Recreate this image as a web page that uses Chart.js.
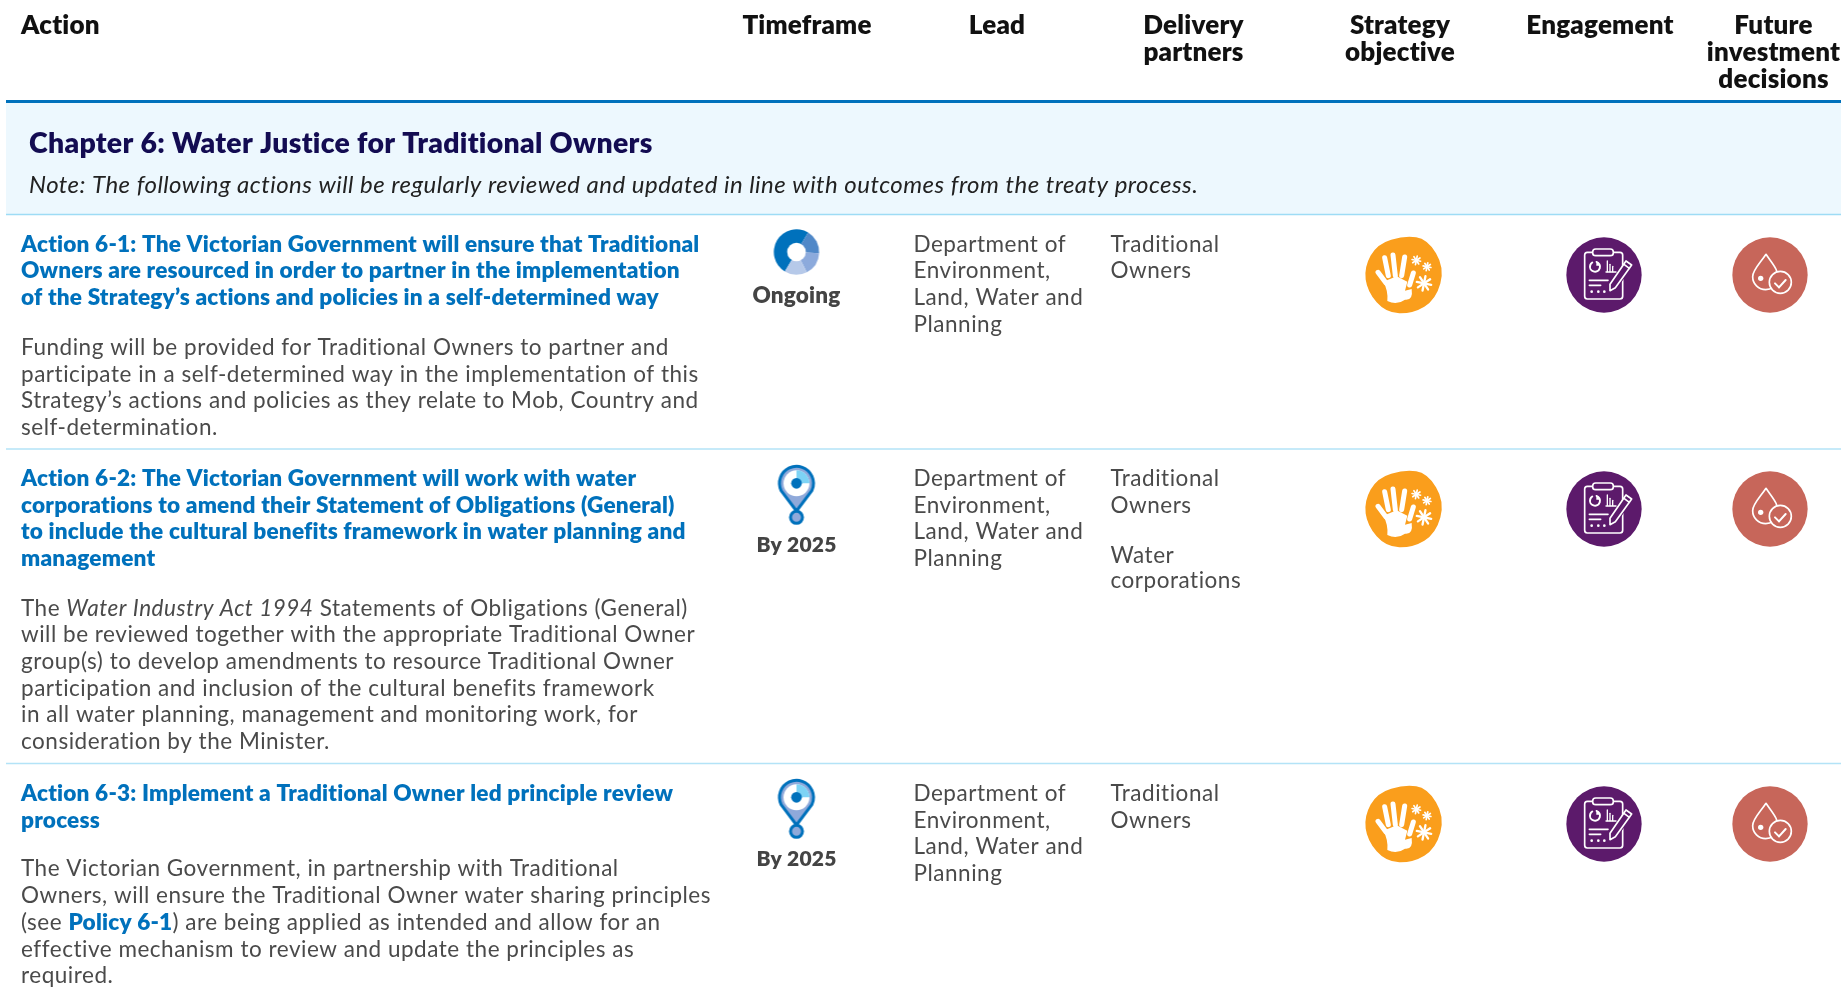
<!DOCTYPE html>
<html>
<head>
<meta charset="utf-8">
<title>Chapter 6 actions</title>
<script src="https://cdn.jsdelivr.net/npm/chart.js@4/dist/chart.umd.min.js"></script>
<style>
html,body{margin:0;padding:0;background:#fff;overflow:hidden}
#wrap{position:relative;width:1843px;height:992px}
</style>
</head>
<body>
<div id="wrap"><canvas id="c"></canvas></div>
<script>
const headerLabels=[['Action'],['Timeframe'],['Lead'],['Delivery','partners'],['Strategy','objective'],['Engagement'],['Future','investment','decisions']];
const chapterTitle='Chapter 6: Water Justice for Traditional Owners';
const chapterNote='Note: The following actions will be regularly reviewed and updated in line with outcomes from the treaty process.';
const actionTitles=[
  ['Action 6-1: The Victorian Government will ensure that Traditional','Owners are resourced in order to partner in the implementation','of the Strategy\u2019s actions and policies in a self-determined way'],
  ['Action 6-2: The Victorian Government will work with water','corporations to amend their Statement of Obligations (General)','to include the cultural benefits framework in water planning and','management'],
  ['Action 6-3: Implement a Traditional Owner led principle review','process']
];
const actionBodies=[
  ['Funding will be provided for Traditional Owners to partner and','participate in a self-determined way in the implementation of this','Strategy\u2019s actions and policies as they relate to Mob, Country and','self-determination.'],
  ['The _Water Industry Act 1994_ Statements of Obligations (General)','will be reviewed together with the appropriate Traditional Owner','group(s) to develop amendments to resource Traditional Owner','participation and inclusion of the cultural benefits framework','in all water planning, management and monitoring work, for','consideration by the Minister.'],
  ['The Victorian Government, in partnership with Traditional','Owners, will ensure the Traditional Owner water sharing principles','(see *Policy 6-1*) are being applied as intended and allow for an','effective mechanism to review and update the principles as','required.']
];
const timeframes=['Ongoing','By 2025','By 2025'];
const leadLines=['Department of','Environment,','Land, Water and','Planning'];
const partnerLines=[['Traditional','Owners'],['Traditional','Owners','','Water','corporations'],['Traditional','Owners']];
const ongoingShares=[180,62,60,58];
const ongoingColors=['#0071bc','#5088c8','#8caadc','#b6c9e9'];

// layout, in page pixels
const W=1843,H=992,LEFT=6,RIGHT=1841;
const headerX=[21,807,997,1193.5,1400,1600,1773.5];
const headerY=[33.7,61,87.5];
const ruleY=[214.5,449,763.5];
const titleY=[251.7,486,801];
const bodyY=[355,615.5,876.4];
const timeY=[303,552,866];
const timeIconY=[252,494,808];
const iconY=[275,509,824];
const LINE=26.7;
const C='Lato, "Noto Sans", sans-serif';
const styles={
  head:{font:`800 26px ${C}`,color:'#111111',ls:'0.2px'},
  chapter:{font:`800 28.4px ${C}`,color:'#130c52',ls:'0.3px'},
  note:{font:`italic 400 24px ${C}`,color:'#222222',ls:'0.47px'},
  title:{font:`800 22.6px ${C}`,color:'#0071bc',ls:'0.2px'},
  body:{font:`400 22.5px ${C}`,color:'#4a4a4a',ls:'0.52px'},
  time:{font:`800 22.5px ${C}`,color:'#444444',ls:'0.2px'},
  timeBy:{font:`800 21px ${C}`,color:'#444444',ls:'0.2px'}
};

function iconCanvas(w,h,cx,cy,draw){
  const cv=document.createElement('canvas');cv.width=w;cv.height=h;
  const g=cv.getContext('2d');
  g.translate(w/2,h/2);g.scale(1/3,1/3);g.translate(-cx,-cy);
  g.lineCap='round';g.lineJoin='round';
  draw(g);
  return cv;
}
function line(g,x1,y1,x2,y2){g.beginPath();g.moveTo(x1,y1);g.lineTo(x2,y2);g.stroke();}
function disc(g,x,y,r){g.beginPath();g.arc(x,y,r,0,Math.PI*2);g.fill();}
function ring(g,x,y,r){g.beginPath();g.arc(x,y,r,0,Math.PI*2);g.stroke();}

const ongoingIcon=iconCanvas(60,60,0,0,g=>{
  const total=ongoingShares.reduce((a,b)=>a+b,0);
  let a=(211-90)*Math.PI/180;
  ongoingShares.forEach((v,i)=>{
    const d=v/total*Math.PI*2;
    g.fillStyle=ongoingColors[i];
    g.beginPath();g.moveTo(0,0);g.arc(0,0,68,a,a+d);g.closePath();g.fill();
    a+=d;
  });
  g.fillStyle='#fff';disc(g,0,0,28);
});

const pinIcon=iconCanvas(60,80,139,117,g=>{
  g.fillStyle='#8fa9da';g.strokeStyle='#0071bc';g.lineWidth=9;
  g.beginPath();g.arc(139,85,51,Math.PI*0.86,Math.PI*0.14);g.lineTo(139,168);g.closePath();g.fill();g.stroke();
  g.fillStyle='#fff';disc(g,139,85,39);
  g.fillStyle='#7dd3f5';g.beginPath();g.moveTo(139,85);g.arc(139,85,39,-Math.PI/2,0);g.closePath();g.fill();
  g.fillStyle='#0071bc';disc(g,139,85,16);
  g.fillStyle='#8fa9da';g.beginPath();g.arc(139,187,18,0,Math.PI*2);g.fill();g.stroke();
});

function flake(g,x,y,r,w){
  g.lineWidth=w;
  for(let i=0;i<4;i++){
    const t=i*Math.PI/4+0.2;
    line(g,x-Math.cos(t)*r,y-Math.sin(t)*r,x+Math.cos(t)*r,y+Math.sin(t)*r);
  }
}
const handIcon=iconCanvas(90,90,165,148,g=>{
  const blob=[[165,30],[232,40],[284,125],[258,222],[188,264],[108,262],[52,198],[42,125],[82,54]];
  g.fillStyle='#fa9e1c';g.beginPath();
  blob.forEach((p,i)=>{
    const n=blob[(i+1)%blob.length];
    const mx=(p[0]+n[0])/2,my=(p[1]+n[1])/2;
    if(i===0)g.moveTo((blob[8][0]+p[0])/2,(blob[8][1]+p[1])/2);
    g.quadraticCurveTo(p[0],p[1],mx,my);
  });
  g.closePath();g.fill();
  g.strokeStyle='#fff';g.fillStyle='#fff';
  g.lineWidth=15;
  line(g,84,140,108,172);line(g,104,96,115,150);line(g,129,88,136,150);line(g,164,94,155,150);
  line(g,190,142,179,178);
  g.beginPath();g.moveTo(100,168);g.lineTo(140,152);g.lineTo(172,168);g.lineTo(165,195);g.lineTo(185,190);
  g.quadraticCurveTo(190,225,165,222);g.quadraticCurveTo(140,240,112,226);g.quadraticCurveTo(115,195,100,168);g.closePath();g.fill();
  flake(g,199,104,13,5);flake(g,231,123,12,5);flake(g,222,173,22,7);
});

const clipIcon=iconCanvas(84,84,162,150,g=>{
  g.fillStyle='#5c1a6b';disc(g,162,150,113);
  g.strokeStyle='#fff';g.lineWidth=5;
  g.beginPath();g.roundRect(104,82,114,140,8);g.stroke();
  g.fillStyle='#5c1a6b';g.beginPath();g.roundRect(128,72,62,20,9);g.fill();g.stroke();
  g.lineWidth=6;
  g.beginPath();g.arc(135,125,15,-Math.PI*0.4,Math.PI*1.6-0.9);g.stroke();
  g.fillStyle='#fff';g.beginPath();g.moveTo(139,122);g.lineTo(139,108);g.lineTo(150,122);g.closePath();g.fill();
  g.lineWidth=4;
  line(g,172,140,172,108);line(g,180,140,180,118);line(g,188,140,188,124);line(g,168,141,198,141);
  g.lineWidth=5;
  line(g,118,166,174,166);line(g,118,181,152,181);
  g.fillStyle='#fff';disc(g,125,200,4);disc(g,145,200,4);disc(g,163,200,4);
  g.strokeStyle='#5c1a6b';g.lineWidth=26;line(g,236,118,192,182);
  g.strokeStyle='#fff';g.lineWidth=5;
  g.fillStyle='#5c1a6b';
  g.beginPath();g.moveTo(228,108);g.lineTo(245,120);g.lineTo(196,188);g.lineTo(180,197);g.lineTo(180,178);g.closePath();g.fill();g.stroke();
  line(g,222,118,238,130);
});

const dropIcon=iconCanvas(84,84,150,150,g=>{
  g.fillStyle='#c7665a';disc(g,150,150,113);
  g.strokeStyle='#fff';g.lineWidth=5;
  g.beginPath();g.moveTo(138,88);g.bezierCurveTo(120,115,98,135,98,155);g.arc(137,155,39,Math.PI,Math.PI*0.1,true);g.bezierCurveTo(178,135,156,115,138,88);g.closePath();g.stroke();
  g.fillStyle='#fff';disc(g,122,160,8);
  g.fillStyle='#c7665a';disc(g,181,172,33);ring(g,181,172,33);
  g.lineWidth=6;line(g,165,175,177,187);line(g,177,187,197,165);
});

function pts(x,ys){return ys.map(y=>({x,y}));}
function iconSet(x,ys,img){
  return {type:'scatter',data:pts(x,ys),pointStyle:img,pointRadius:10,pointHoverRadius:10,showLine:false,clip:false,order:1};
}
function ruleSet(y,color,width){
  return {type:'line',data:[{x:LEFT,y},{x:RIGHT,y}],borderColor:color,borderWidth:width,pointRadius:0,fill:false,borderCapStyle:'butt',clip:false,order:2};
}

function put(ctx,st,txt,x,y,align){
  ctx.font=st.font;ctx.fillStyle=st.color;ctx.letterSpacing=st.ls;ctx.textAlign=align||'left';ctx.textBaseline='alphabetic';
  ctx.fillText(txt,x,y);
}
// _x_ is italic, *x* is the bold blue link style
function putRuns(ctx,st,txt,x,y){
  txt.split(/(_[^_]+_|\*[^*]+\*)/).filter(Boolean).forEach(r=>{
    let s=st,t=r;
    if(r[0]==='_'){t=r.slice(1,-1);s={font:st.font.replace('400','italic 400'),color:st.color,ls:st.ls};}
    else if(r[0]==='*'){t=r.slice(1,-1);s=styles.title;}
    put(ctx,s,t,x,y);
    x+=ctx.measureText(t).width;
  });
}

const tablePlugin={id:'tableText',afterDatasetsDraw(chart){
  const ctx=chart.ctx,sx=chart.scales.x,sy=chart.scales.y;
  const px=v=>sx.getPixelForValue(v),py=v=>sy.getPixelForValue(v);
  ctx.save();
  headerLabels.forEach((lines,i)=>lines.forEach((t,j)=>put(ctx,styles.head,t,px(headerX[i]),py(headerY[j]),i?'center':'left')));
  put(ctx,styles.chapter,chapterTitle,px(29),py(153));
  put(ctx,styles.note,chapterNote,px(29),py(193));
  actionTitles.forEach((lines,i)=>lines.forEach((t,j)=>put(ctx,styles.title,t,px(21),py(titleY[i]+j*LINE))));
  actionBodies.forEach((lines,i)=>lines.forEach((t,j)=>putRuns(ctx,styles.body,t,px(21),py(bodyY[i]+j*LINE))));
  timeframes.forEach((t,i)=>put(ctx,i?styles.timeBy:styles.time,t,px(796.5),py(timeY[i]),'center'));
  titleY.forEach((y,i)=>{
    leadLines.forEach((t,j)=>put(ctx,styles.body,t,px(913.5),py(y+j*LINE)));
    partnerLines[i].forEach((t,j)=>put(ctx,styles.body,t,px(1110.5),py(y+j*(j>2?25.5:LINE))));
  });
  ctx.restore();
}};

new Chart(document.getElementById('c'),{
  type:'scatter',
  data:{datasets:[
    {type:'line',data:[{x:LEFT,y:103},{x:RIGHT,y:103}],borderWidth:0,pointRadius:0,backgroundColor:'#edf8fe',fill:{value:214},clip:false,order:5},
    ruleSet(101.5,'#0071bc',3),
    ...ruleY.map((y,i)=>ruleSet(y,i?'#b3e3f7':'#9edcf5',1.5)),
    iconSet(796.5,[timeIconY[0]],ongoingIcon),
    iconSet(796.5,timeIconY.slice(1),pinIcon),
    iconSet(1405,iconY,handIcon),
    iconSet(1604,iconY,clipIcon),
    iconSet(1770,iconY,dropIcon)
  ]},
  options:{
    responsive:true,maintainAspectRatio:false,animation:false,events:[],
    layout:{padding:0,autoPadding:false},
    plugins:{legend:{display:false},tooltip:{enabled:false},title:{display:false}},
    scales:{
      x:{type:'linear',display:false,min:0,max:W},
      y:{type:'linear',display:false,min:0,max:H,reverse:true}
    }
  },
  plugins:[tablePlugin]
});
</script>
</body>
</html>
